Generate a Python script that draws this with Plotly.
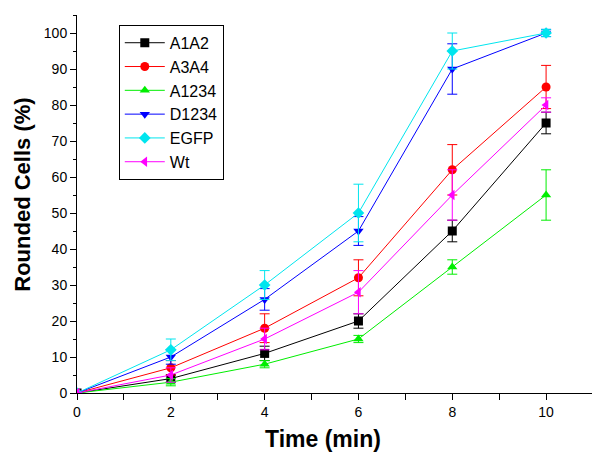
import plotly.graph_objects as go

time_min = [0, 2, 4, 6, 8, 10]
series_names = ["A1A2", "A3A4", "A1234", "D1234", "EGFP", "Wt"]
a1a2 = [0, 4, 11, 20, 45, 75]
a3a4 = [0, 7, 18, 32, 62, 85]
a1234 = [0, 3, 8, 15, 35, 55]
d1234 = [0, 10, 26, 45, 90, 100]
egfp = [0, 12, 30, 50, 95, 100]
wt = [0, 5, 15, 28, 55, 80]

err_a1a2 = [0, 1, 2, 2, 3, 3]
err_a3a4 = [0, 2, 4, 5, 7, 6]
err_a1234 = [0, 1, 1, 1, 2, 7]
err_d1234 = [0, 2, 3, 4, 7, 1]
err_egfp = [0, 3, 4, 8, 5, 1]
err_wt = [0, 2, 3, 6, 7, 2]

x_title = "Time (min)"
y_title = "Rounded Cells (%)"

values = [a1a2, a3a4, a1234, d1234, egfp, wt]
errors = [err_a1a2, err_a3a4, err_a1234, err_d1234, err_egfp, err_wt]
colors = ["#000000", "#ff0000", "#00ee00", "#0000ff", "#00e5ee", "#ff00ff"]
symbols = ["square", "circle", "triangle-up", "triangle-down", "diamond", "triangle-left"]

fig = go.Figure()
for name, v, e, c, s in zip(series_names, values, errors, colors, symbols):
    fig.add_trace(go.Scatter(
        x=time_min, y=v, name=name, mode="lines+markers",
        line=dict(color=c, width=1),
        marker=dict(symbol=s, size=9, color=c),
        error_y=dict(type="data", array=e, visible=True, color=c, thickness=1, width=5),
    ))

# page body has an 8px margin; figure sized so the plot lands where the reference's does
fig.update_layout(
    width=592, height=447,
    margin=dict(l=69, r=7, t=7, b=62),
    paper_bgcolor="white", plot_bgcolor="white",
    font=dict(family="Arial, Liberation Sans", color="black"),
    showlegend=True,
    legend=dict(
        x=0.081, y=0.974, xanchor="left", yanchor="top",
        bordercolor="black", borderwidth=1,
        font=dict(size=16, family="Arial, Liberation Sans"),
        itemwidth=40,
        bgcolor="white",
    ),
    xaxis=dict(
        range=[0, 11], tickmode="array", tickvals=[0, 2, 4, 6, 8, 10],
        ticks="outside", ticklen=6, tickcolor="black",
        minor=dict(tickvals=[1, 3, 5, 7, 9, 11], ticks="outside", ticklen=6, tickcolor="black"),
        showline=True, linecolor="black", linewidth=1,
        showgrid=False, zeroline=False, automargin=False,
        tickfont=dict(size=14),
    ),
    yaxis=dict(
        range=[0, 105], dtick=10, tick0=0,
        ticks="outside", ticklen=6, tickcolor="black",
        minor=dict(dtick=5, ticks="outside", ticklen=3, tickcolor="black"),
        showline=True, linecolor="black", linewidth=1,
        showgrid=False, zeroline=False, automargin=False,
        tickfont=dict(size=14),
    ),
    annotations=[
        dict(text="<b>" + x_title + "</b>", xref="paper", yref="paper",
             x=0.477, y=-0.122, xanchor="center", yanchor="middle",
             showarrow=False, font=dict(size=23)),
        dict(text="<b>" + y_title + "</b>", xref="paper", yref="paper",
             x=-0.105, y=0.524, xanchor="center", yanchor="middle",
             textangle=-90, showarrow=False, font=dict(size=22)),
    ],
)

fig.write_html("out.html")
